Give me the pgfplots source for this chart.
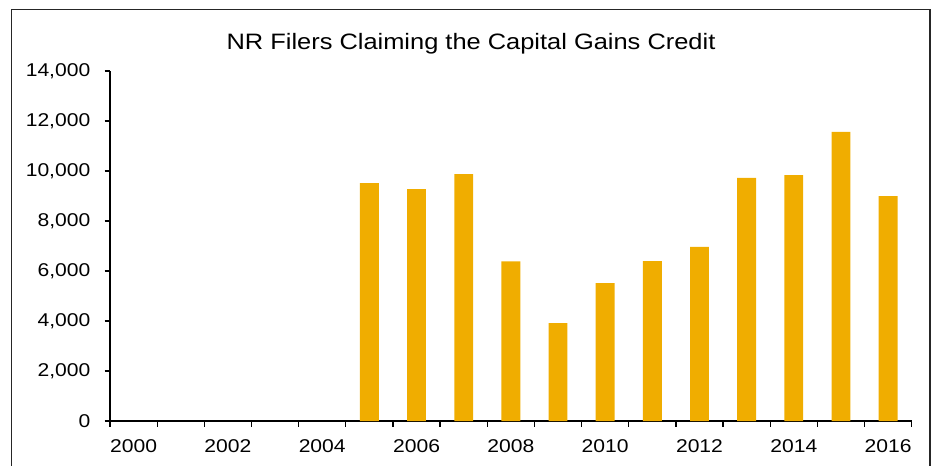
\documentclass[border=0pt]{standalone}
\usepackage{fontspec}
\setmainfont{Liberation Sans}[FakeStretch=1.14]
\usepackage{pgfplots}
\pgfplotsset{compat=1.18}
\definecolor{barc}{RGB}{240,173,0}
\begin{document}
\begin{tikzpicture}
\path[use as bounding box] (0,0) rectangle (932pt,-466pt);
\draw[line width=1.5pt, color=black!85] (11.5pt,-470pt) -- (11.5pt,-9.5pt) -- (930pt,-9.5pt) -- (930pt,-470pt);
\node[font=\fontsize{22.3}{26}\selectfont, anchor=base, inner sep=0pt] at (471pt,-49pt) {NR Filers Claiming the Capital Gains Credit};
\begin{axis}[
  at={(110pt,-421pt)}, anchor=south west, scale only axis,
  width=801.7pt, height=350pt,
  xmin=-0.5, xmax=16.5, ymin=0, ymax=14000,
  axis x line=bottom, axis y line=left,
  axis line style={-, line width=1.3pt, black},
  tick align=outside,
  xtick={0,2,...,16},
  xticklabels={2000,2002,2004,2006,2008,2010,2012,2014,2016},
  major x tick style={draw=none},
  minor xtick={-0.5,0.5,...,16.5},
  minor x tick style={line width=1.3pt, black},
  minor tick length=5.5pt,
  ytick={0,2000,...,14000},
  major tick length=5.5pt,
  y tick style={line width=1.3pt, black},
  scaled y ticks=false,
  /pgf/number format/.cd, fixed, 1000 sep={,}, assume math mode=true,
  /pgfplots/.cd,
  tick label style={font=\fontsize{18.5}{22}\selectfont, inner sep=0pt},
  yticklabel style={anchor=east, xshift=-14pt},
  xticklabel style={anchor=north, yshift=-13pt},
  ]
\addplot[ybar, bar width=0.4, fill=barc, draw=none] coordinates {
  (5,9520) (6,9280) (7,9880) (8,6390) (9,3920) (10,5520)
  (11,6400) (12,6970) (13,9730) (14,9840) (15,11570) (16,9000)
};
\end{axis}
\end{tikzpicture}
\end{document}
